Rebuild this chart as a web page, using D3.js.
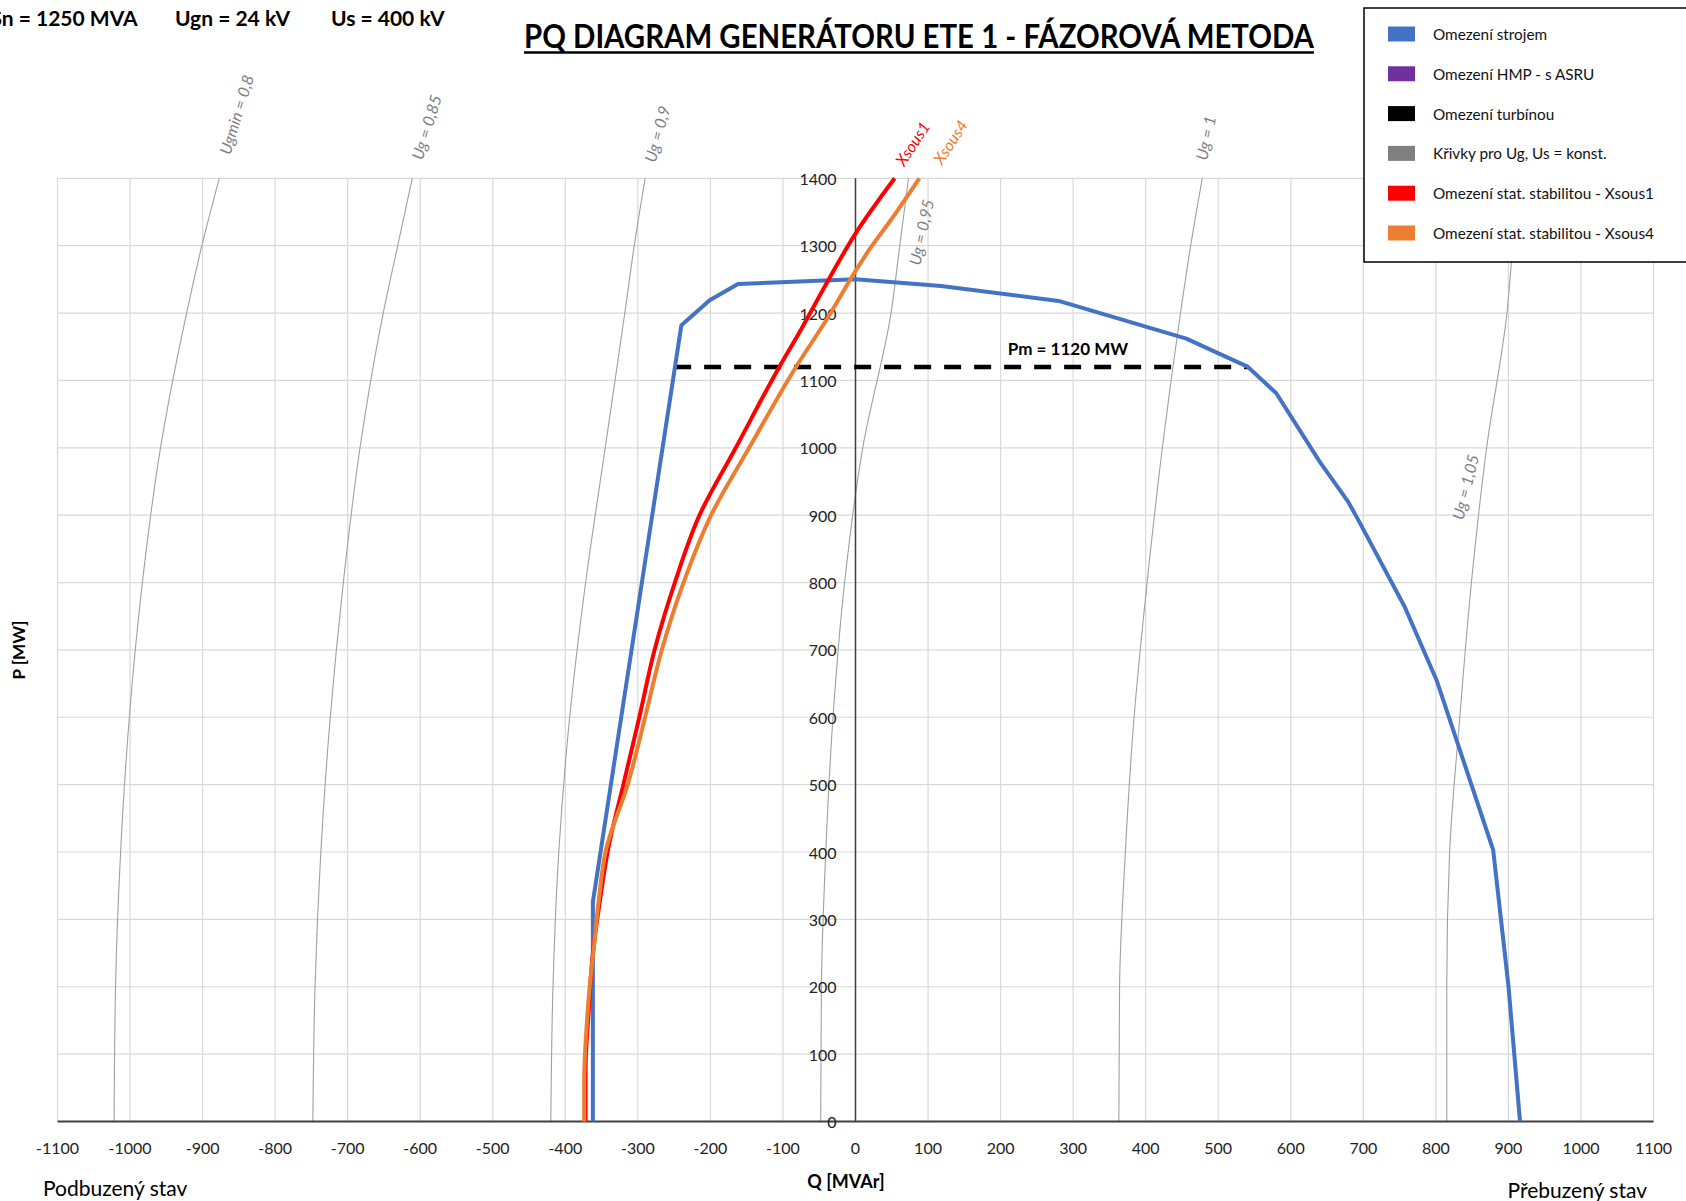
<!DOCTYPE html>
<html>
<head>
<meta charset="utf-8">
<script src="https://cdn.jsdelivr.net/npm/d3@7"></script>
<style>
  body { margin: 0; background: #fff; }
  svg { display: block; }
  text { font-family: Lato, "Open Sans", "Noto Sans", sans-serif; }
</style>
</head>
<body>
<svg id="chart" width="1686" height="1201"></svg>
<script>
// ---- data -------------------------------------------------------------
const qTicks = [-1100, -1000, -900, -800, -700, -600, -500, -400, -300, -200, -100,
                0, 100, 200, 300, 400, 500, 600, 700, 800, 900, 1000, 1100];
const pTicks = [0, 100, 200, 300, 400, 500, 600, 700, 800, 900, 1000, 1100, 1200, 1300, 1400];

// machine capability limit (Omezení strojem)
const machineQ = [-362, -362, -240, -201, -162, 0, 118, 280, 456, 541, 580, 640, 679, 693, 757, 801, 879, 900, 916];
const machineP = [0, 326, 1182, 1219, 1243, 1250, 1240, 1218, 1162, 1120, 1081, 979, 920, 893, 764, 655, 403, 202, 0];

// steady-state stability limits
const xsous1Q = [-372, -372, -368, -362, -352, -340, -320, -298, -277, -249, -215, -165, -105, -78, -40, 0, 54];
const xsous1P = [0, 80, 160, 250, 330, 410, 500, 600, 700, 800, 900, 1000, 1120, 1170, 1244, 1318, 1400];
const xsous4Q = [-374, -374, -371, -366, -361, -354, -344, -314, -290, -267, -237, -199, -146, -82, -40, 1, 19, 50, 88];
const xsous4P = [0, 60, 135, 205, 254, 328, 403, 500, 600, 700, 800, 900, 1001, 1120, 1190, 1264, 1294, 1340, 1400];

// curves for constant Ug, Us
const ugP    = [0, 200, 400, 600, 800, 1000, 1200, 1300, 1400];
const ug080Q = [-1022, -1020, -1013, -1001, -983, -958, -922, -901, -877];
const ug085Q = [-748, -745, -737, -724, -706, -683, -651, -631, -611];
const ug090Q = [-420, -417, -409, -394, -372, -345, -318, -305, -290];
const ug095Q = [-48, -47, -41, -31, -15, 10, 49, 61, 73];
const ug100Q = [363, 364, 372, 384, 402, 423, 448, 462, 478];
const ug105Q = [815, 815, 819, 833, 849, 870, 898, 906, 915];

const pmValue = 1120;
const pmRangeQ = [-250, 541];

const legendLabels = ["Omezení strojem", "Omezení HMP - s ASRU", "Omezení turbínou",
                      "Křivky pro Ug, Us = konst.", "Omezení stat. stabilitou - Xsous1",
                      "Omezení stat. stabilitou - Xsous4"];
const legendColors = ["#4472C4", "#7030A0", "#000000", "#808080", "#FF0000", "#ED7D31"];

// ---- drawing ----------------------------------------------------------
const svg = d3.select("#chart");
const x = d3.scaleLinear().domain([-1100, 1100]).range([57.5, 1653.5]);
const y = d3.scaleLinear().domain([0, 1400]).range([1121.5, 178.3]);

const line = d3.line().x(d => x(d[0])).y(d => y(d[1]));
const smooth = d3.line().x(d => x(d[0])).y(d => y(d[1])).curve(d3.curveMonotoneY);
const zip = (qs, ps) => qs.map((q, i) => [q, ps[i]]);

// grid
const grid = svg.append("g").attr("stroke", "#d9d9d9").attr("stroke-width", 1.2);
grid.selectAll("line.v").data(qTicks).join("line")
  .attr("x1", d => x(d)).attr("x2", d => x(d))
  .attr("y1", y(0)).attr("y2", y(1400));
grid.selectAll("line.h").data(pTicks).join("line")
  .attr("x1", x(-1100)).attr("x2", x(1100))
  .attr("y1", d => y(d)).attr("y2", d => y(d));

// constant-voltage curves
const ugCurves = [
  { q: ug080Q, label: "Ugmin = 0,8", at: [-854, 1495], rot: -73 },
  { q: ug085Q, label: "Ug = 0,85",   at: [-592, 1476], rot: -73 },
  { q: ug090Q, label: "Ug = 0,9",    at: [-274, 1466], rot: -75 },
  { q: ug095Q, label: "Ug = 0,95",   at: [90, 1320],   rot: -78 },
  { q: ug100Q, label: "Ug = 1",      at: [482, 1460],  rot: -78 },
  { q: ug105Q, label: "Ug = 1,05",   at: [840, 942],   rot: -76 }
];
svg.append("g").selectAll("path").data(ugCurves).join("path")
  .attr("d", d => smooth(zip(d.q, ugP)))
  .attr("fill", "none").attr("stroke", "#a0a0a0").attr("stroke-width", 1.1);

// axes
svg.append("line").attr("x1", x(0)).attr("x2", x(0)).attr("y1", y(0)).attr("y2", y(1400))
  .attr("stroke", "#404040").attr("stroke-width", 1.5);
svg.append("line").attr("x1", x(-1100)).attr("x2", x(1100)).attr("y1", y(0)).attr("y2", y(0))
  .attr("stroke", "#404040").attr("stroke-width", 2);

// tick labels
svg.append("g").selectAll("text").data(qTicks).join("text")
  .attr("x", d => x(d)).attr("y", y(0) + 26)
  .attr("text-anchor", "middle").attr("dominant-baseline", "central")
  .attr("font-size", 16).attr("fill", "#222")
  .text(d => d);
svg.append("g").selectAll("text").data(pTicks).join("text")
  .attr("x", x(0) - 19).attr("y", d => y(d))
  .attr("text-anchor", "end").attr("dominant-baseline", "central")
  .attr("font-size", 16).attr("fill", "#222")
  .text(d => d);

// turbine limit
svg.append("line")
  .attr("x1", x(pmRangeQ[0])).attr("x2", x(pmRangeQ[1]))
  .attr("y1", y(pmValue)).attr("y2", y(pmValue))
  .attr("stroke", "#000").attr("stroke-width", 4.5).attr("stroke-dasharray", "17,13");
svg.append("text").attr("x", x(210)).attr("y", y(pmValue) - 18)
  .attr("font-size", 17).attr("font-weight", "bold").attr("dominant-baseline", "central")
  .text(`Pm = ${pmValue} MW`);

// machine limit and stability limits
svg.append("path").attr("d", line(zip(machineQ, machineP)))
  .attr("fill", "none").attr("stroke", "#4472C4").attr("stroke-width", 4).attr("stroke-linejoin", "round");
svg.append("path").attr("d", smooth(zip(xsous1Q, xsous1P)))
  .attr("fill", "none").attr("stroke", "#FF0000").attr("stroke-width", 4).attr("stroke-linejoin", "round");
svg.append("path").attr("d", smooth(zip(xsous4Q, xsous4P)))
  .attr("fill", "none").attr("stroke", "#ED7D31").attr("stroke-width", 4).attr("stroke-linejoin", "round");

// curve labels
svg.append("g").selectAll("text").data(ugCurves).join("text")
  .attr("transform", d => `translate(${x(d.at[0])},${y(d.at[1])}) rotate(${d.rot})`)
  .attr("text-anchor", "middle").attr("dominant-baseline", "central")
  .attr("font-size", 16).attr("font-style", "italic").attr("fill", "#7f7f7f")
  .text(d => d.label);
const xsLabels = [
  { label: "Xsous1", at: [78, 1452], color: "#FF0000" },
  { label: "Xsous4", at: [130, 1454], color: "#ED7D31" }
];
svg.append("g").selectAll("text").data(xsLabels).join("text")
  .attr("transform", d => `translate(${x(d.at[0])},${y(d.at[1])}) rotate(-57)`)
  .attr("text-anchor", "middle").attr("dominant-baseline", "central")
  .attr("font-size", 16).attr("font-style", "italic").attr("fill", d => d.color)
  .text(d => d.label);

// axis titles
svg.append("text").attr("transform", "translate(18,650) rotate(-90)")
  .attr("text-anchor", "middle").attr("dominant-baseline", "central")
  .attr("font-size", 17).attr("font-weight", "bold").text("P [MW]");
svg.append("text").attr("x", 846).attr("y", 1181)
  .attr("text-anchor", "middle").attr("dominant-baseline", "central")
  .attr("font-size", 18).attr("font-weight", "bold").text("Q [MVAr]");
svg.append("text").attr("x", 43).attr("y", 1187).attr("dominant-baseline", "central")
  .attr("font-size", 21).text("Podbuzený stav");
svg.append("text").attr("x", 1647).attr("y", 1189).attr("text-anchor", "end").attr("dominant-baseline", "central")
  .attr("font-size", 21).text("Přebuzený stav");

// header
svg.append("text").attr("x", 137.6).attr("y", 26).attr("text-anchor", "end")
  .attr("font-size", 21).attr("font-weight", "bold").text("Sn = 1250 MVA");
svg.append("text").attr("x", 175).attr("y", 26)
  .attr("font-size", 21).attr("font-weight", "bold").text("Ugn = 24 kV");
svg.append("text").attr("x", 331).attr("y", 26)
  .attr("font-size", 21).attr("font-weight", "bold").text("Us = 400 kV");

svg.append("text").attr("x", 524).attr("y", 48)
  .attr("font-size", 33).attr("font-weight", "bold")
  .attr("textLength", 790).attr("lengthAdjust", "spacingAndGlyphs")
  .text("PQ DIAGRAM GENERÁTORU ETE 1 - FÁZOROVÁ METODA");
svg.append("line").attr("x1", 524).attr("x2", 1314).attr("y1", 52.5).attr("y2", 52.5)
  .attr("stroke", "#000").attr("stroke-width", 2.5);

// legend
const lg = svg.append("g");
lg.append("rect").attr("x", 1364).attr("y", 8).attr("width", 340).attr("height", 254)
  .attr("fill", "#fff").attr("stroke", "#000").attr("stroke-width", 1.5);
const rowY = d3.scalePoint().domain(d3.range(legendLabels.length)).range([34, 233]);
const rows = lg.selectAll("g").data(legendLabels).join("g")
  .attr("transform", (d, i) => `translate(0,${rowY(i)})`);
rows.append("rect").attr("x", 1388).attr("y", -7.5).attr("width", 27).attr("height", 15)
  .attr("fill", (d, i) => legendColors[i]);
rows.append("text").attr("x", 1433).attr("y", 0).attr("dominant-baseline", "central")
  .attr("font-size", 15.3).attr("fill", "#111").text(d => d);
</script>
</body>
</html>
